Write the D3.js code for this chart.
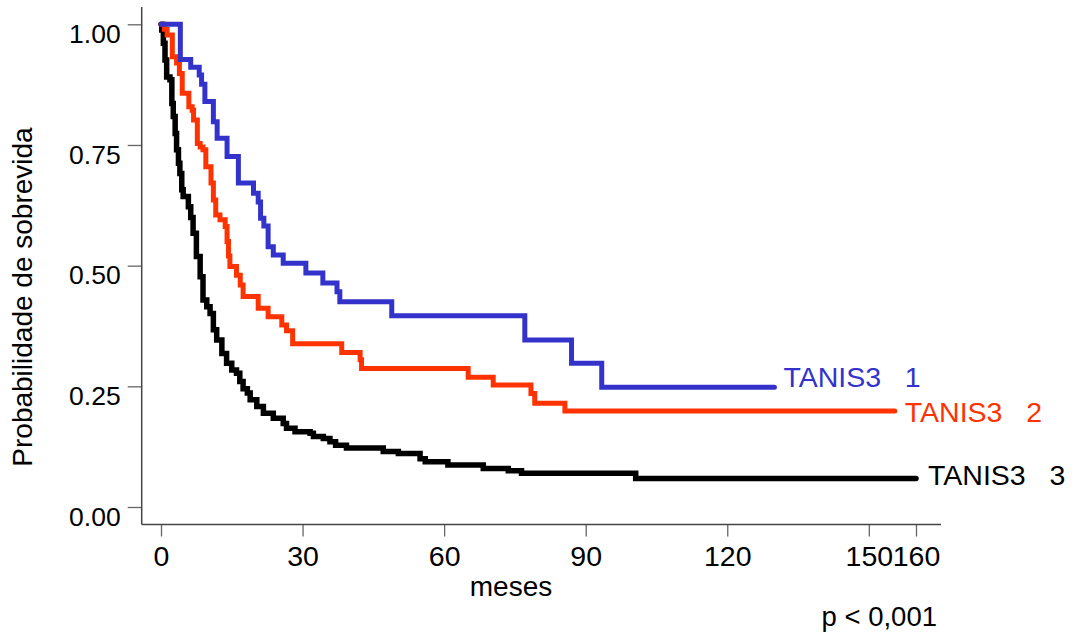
<!DOCTYPE html>
<html>
<head>
<meta charset="utf-8">
<script src="https://cdn.jsdelivr.net/npm/d3@7"></script>
<style>
  html, body { margin: 0; padding: 0; background: #fff; }
  svg { display: block; font-family: "Liberation Sans", Arial, sans-serif; }
  text { white-space: pre; }
</style>
</head>
<body>
<svg id="chart" width="1076" height="637"></svg>
<script>
// Kaplan-Meier survival estimates by TANIS3 group: [months, survival] at each step
const groupLabels = ["TANIS3   1", "TANIS3   2", "TANIS3   3"];
const groupColors = ["#3333cc", "#ff3300", "#000000"];
const groupWidths = [5, 5, 5.5];

const stepsTanis1 = [
  [0, 1], [4.1, 0.927], [6.3, 0.911], [8.1, 0.895], [8.6, 0.876], [9.3, 0.840],
  [11.1, 0.798], [11.9, 0.764], [14.0, 0.726], [16.4, 0.671], [19.6, 0.650],
  [20.6, 0.632], [21.1, 0.598], [21.8, 0.582], [22.7, 0.539], [23.8, 0.522],
  [25.9, 0.505], [30.7, 0.485], [34.3, 0.464], [37.3, 0.446], [37.9, 0.425],
  [48.9, 0.396], [77.1, 0.346], [87.0, 0.298], [93.4, 0.248]
];
const stepsTanis2 = [
  [0, 1], [0.7, 0.99], [1.3, 0.978], [2.4, 0.933], [3.3, 0.92], [3.9, 0.898],
  [4.5, 0.857], [5.9, 0.829], [6.6, 0.822], [6.9, 0.802], [7.7, 0.753],
  [8.3, 0.746], [8.9, 0.740], [9.5, 0.705], [10.6, 0.671], [11.1, 0.636],
  [11.6, 0.605], [12.5, 0.595], [13.6, 0.581], [14.0, 0.55], [14.3, 0.52],
  [14.6, 0.498], [16.0, 0.48], [16.8, 0.46], [17.4, 0.436], [20.6, 0.412],
  [22.7, 0.394], [25.6, 0.377], [26.6, 0.365], [27.9, 0.338], [38.3, 0.320],
  [42.2, 0.305], [42.5, 0.287], [65.1, 0.269], [70.4, 0.253], [78.4, 0.235],
  [79.2, 0.215], [85.6, 0.199]
];
const stepsTanis3 = [
  [0, 1], [0.15, 0.988], [0.5, 0.961], [0.85, 0.926], [1.2, 0.891], [1.9, 0.885],
  [2.3, 0.836], [2.6, 0.809], [3.0, 0.774], [3.3, 0.740], [3.7, 0.712],
  [4.0, 0.691], [4.4, 0.657], [4.7, 0.643], [5.8, 0.622], [6.3, 0.600],
  [6.8, 0.567], [7.5, 0.519], [8.3, 0.477], [8.9, 0.429], [9.7, 0.415],
  [10.4, 0.401], [11.1, 0.367], [11.8, 0.346], [12.9, 0.318], [13.9, 0.298],
  [15.0, 0.284], [16.0, 0.277], [16.7, 0.260], [17.4, 0.245], [18.3, 0.236],
  [18.9, 0.222], [20.3, 0.208], [21.7, 0.194], [23.8, 0.184], [25.9, 0.173],
  [26.6, 0.163], [28.4, 0.156], [31.6, 0.153], [32.3, 0.146], [34.4, 0.142],
  [35.8, 0.135], [37.0, 0.128], [39.3, 0.122], [47.1, 0.115], [50.3, 0.111],
  [54.9, 0.100], [56.0, 0.094], [60.8, 0.087], [68.3, 0.080], [73.6, 0.075],
  [76.4, 0.070], [100.6, 0.059]
];
// last follow-up time of each group
const lastFollowUp = [130, 155.5, 160];

const xTicks = [0, 30, 60, 90, 120, 150, 160];
const yTicks = [0, 0.25, 0.5, 0.75, 1];

const svg = d3.select("#chart");

const x = d3.scaleLinear().domain([0, 160]).range([161, 916]);
const y = d3.scaleLinear().domain([0, 1]).range([507, 24.3]);

const axisX0 = 141.7;   // left frame line
const axisY0 = 524.5;   // bottom frame line
const axisXEnd = 941;
const axisYTop = 7;

// y axis
const yAxis = d3.axisLeft(y).tickValues(yTicks).tickFormat(d3.format(".2f")).tickSize(14).tickPadding(7);
const gy = svg.append("g").attr("transform", `translate(${axisX0},0)`).call(yAxis);
gy.select(".domain").remove();
gy.selectAll(".tick line").attr("stroke", "#666").attr("stroke-width", 1.3);
gy.selectAll(".tick text").attr("font-size", 26.5).attr("fill", "#000")
  .attr("font-family", "Liberation Sans, Arial, sans-serif").attr("dy", "0.68em");
svg.append("line").attr("x1", axisX0).attr("x2", axisX0).attr("y1", axisYTop).attr("y2", axisY0)
  .attr("stroke", "#444").attr("stroke-width", 1.5);

// x axis
const xAxis = d3.axisBottom(x).tickValues(xTicks).tickFormat(d3.format("d")).tickSize(12).tickPadding(9);
const gx = svg.append("g").attr("transform", `translate(0,${axisY0})`).call(xAxis);
gx.select(".domain").remove();
gx.selectAll(".tick line").attr("stroke", "#666").attr("stroke-width", 1.3);
gx.selectAll(".tick text").attr("font-size", 28.5).attr("fill", "#000")
  .attr("font-family", "Liberation Sans, Arial, sans-serif");
svg.append("line").attr("x1", axisX0).attr("x2", axisXEnd).attr("y1", axisY0).attr("y2", axisY0)
  .attr("stroke", "#444").attr("stroke-width", 1.5);

// axis titles
svg.append("text").attr("x", 511).attr("y", 596).attr("text-anchor", "middle")
  .attr("font-size", 28).text("meses");
svg.append("text").attr("x", 937).attr("y", 626).attr("text-anchor", "end")
  .attr("font-size", 27.5).text("p < 0,001");
svg.append("text").attr("transform", "translate(32,297) rotate(-90)").attr("text-anchor", "middle")
  .attr("font-size", 28).text("Probabilidade de sobrevida");

// survival curves
const line = d3.line().x(d => x(d[0])).y(d => y(d[1])).curve(d3.curveStepAfter);
const allSteps = [stepsTanis1, stepsTanis2, stepsTanis3];
const drawOrder = [2, 1, 0];
drawOrder.forEach(i => {
  const s = allSteps[i];
  const pts = s.concat([[lastFollowUp[i], s[s.length - 1][1]]]);
  svg.append("path").datum(pts).attr("d", line)
    .attr("fill", "none").attr("stroke", groupColors[i]).attr("stroke-width", groupWidths[i])
    .attr("stroke-linecap", "round");
});

// group labels at the end of each curve
const labelOffsets = [[9, 0], [10, 11], [12, 6]];
allSteps.forEach((s, i) => {
  const lastY = s[s.length - 1][1];
  svg.append("text")
    .attr("x", x(lastFollowUp[i]) + labelOffsets[i][0])
    .attr("y", y(lastY) + labelOffsets[i][1])
    .attr("font-size", 28.5).attr("fill", groupColors[i])
    .text(groupLabels[i]);
});
</script>
</body>
</html>
